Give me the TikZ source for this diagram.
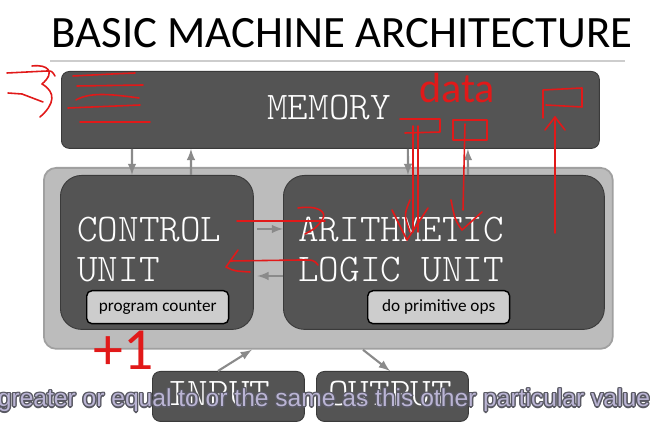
\documentclass[tikz,border=0pt]{standalone}
\usepackage{fontspec}
\setmainfont{Carlito}
\newfontfamily\typefont{Latin Modern Mono Light}
\newfontfamily\subfont{Liberation Sans}
\usepackage{xcolor}
\definecolor{boxdark}{RGB}{84,84,84}
\definecolor{boxedge}{RGB}{58,58,58}
\definecolor{outerfill}{RGB}{188,188,188}
\definecolor{outeredge}{RGB}{160,160,160}
\definecolor{tagfill}{RGB}{205,205,205}
\definecolor{flowgray}{RGB}{138,138,138}
\definecolor{rulegray}{RGB}{205,205,205}
\definecolor{pen}{RGB}{225,25,25}
\definecolor{subfill}{RGB}{186,180,212}
\definecolor{subedge}{RGB}{88,88,98}
\usetikzlibrary{calc,positioning}

\begin{document}
\begin{tikzpicture}[x=0.02cm,y=-0.02cm,
    darkbox/.style={draw=boxedge,fill=boxdark,line width=0.5pt,inner sep=0pt,anchor=north west},
    tagbox/.style={draw=black,fill=tagfill,line width=0.8pt,rounded corners=3pt,inner sep=0pt,anchor=north west,minimum width=2.84cm,minimum height=0.66cm,font=\fontsize{9.8}{11}\selectfont},
    bigtext/.style={text=white,font=\typefont\fontsize{22.3}{24}\selectfont,anchor=base west,inner sep=0pt},
    flow/.style={->,>=latex,draw=flowgray,line width=1.2pt},
    pen/.style={draw=pen,line width=0.9pt,line cap=round,line join=round},
    subline/.style={font=\subfont\fontsize{14}{16}\selectfont,anchor=base,inner sep=0pt}]

  \useasboundingbox (0,0) rectangle (650,425);
  \clip (0,0) rectangle (650,425);

  % title
  \node[anchor=base,inner sep=0pt,font=\fontsize{25.5}{28}\selectfont] (title) at (342,48) {BASIC MACHINE ARCHITECTURE};
  \draw[rulegray,line width=0.8pt] (50,61) -- (625,61);

  % boxes
  \node[darkbox,rounded corners=4.5pt,minimum width=10.76cm,minimum height=1.54cm] (mem) at (61,71) {};
  \node[draw=outeredge,fill=outerfill,line width=1pt,rounded corners=7pt,inner sep=0pt,anchor=north west,minimum width=11.38cm,minimum height=3.62cm] (cpu) at (43,167) {};
  \node[darkbox,rounded corners=12pt,minimum width=3.86cm,minimum height=3.08cm] (cu) at (60,175) {};
  \node[darkbox,rounded corners=12pt,minimum width=6.42cm,minimum height=3.08cm] (alu) at (283,175) {};
  \node[tagbox] (pc) at (86,290) {program counter};
  \node[tagbox] (ops) at (367,290) {do primitive ops};
  \node[darkbox,rounded corners=4.5pt,minimum width=3.04cm,minimum height=1cm] (inp) at (152,371) {};
  \node[darkbox,rounded corners=4.5pt,minimum width=3.04cm,minimum height=1cm] (outp) at (316,371) {};

  % labels
  \node[bigtext,anchor=base] (memtext) at (329,120) {MEMORY};
  \node[bigtext] (cutext) at (77,242) {CONTROL};
  \node[bigtext] (cutext2) at (77,282) {UNIT};
  \node[bigtext] (alutext) at (298,242) {ARITHMETIC};
  \node[bigtext] (alutext2) at (298,282) {LOGIC UNIT};
  \node[bigtext] (intext) at (167,406) {INPUT};
  \node[bigtext] (outtext) at (328,406) {OUTPUT};

  % connectors
  \draw[flow] ([xshift=1.42cm]mem.south west) -- ([xshift=1.44cm]cu.north west);
  \draw[flow] ([xshift=2.62cm]cu.north west) -- ([xshift=2.6cm]mem.south west);
  \draw[flow] ([xshift=6.94cm]mem.south west) -- ([xshift=2.5cm]alu.north west);
  \draw[flow] ([xshift=3.7cm]alu.north west) -- ([xshift=8.14cm]mem.south west);
  \draw[flow] ([xshift=2pt,yshift=-1.08cm]cu.north east) -- ([yshift=-1.08cm]alu.north west);
  \draw[flow] ([yshift=-2.02cm]alu.north west) -- ([xshift=2pt,yshift=-2.02cm]cu.north east);
  \draw[flow] ([xshift=1.32cm]inp.north west) -- ([xshift=4.18cm]cpu.south west);
  \draw[flow] ([xshift=6.4cm]cpu.south west) -- ([xshift=1.48cm]outp.north west);

  % pen notes
  \draw[pen] (7,73) -- (47,71) .. controls (52,71) .. (55,76);
  \draw[pen] (32,66) .. controls (48,64) and (56,72) .. (42,84) .. controls (56,92) and (55,104) .. (40,117);
  \draw[pen] (8,93) -- (22,94) -- (43,102);
  \draw[pen] (73,76) -- (112,74) -- (135,73);
  \draw[pen] (77,86) -- (143,85);
  \draw[pen] (76,100) .. controls (90,92) and (110,94) .. (139,98);
  \draw[pen] (68,108) -- (140,105);
  \draw[pen] (80,122) -- (150,122);
  \draw[pen] (400,119) -- (440,119) -- (440,132) -- (405,133);
  \draw[pen] (413,126) -- (413,232);
  \draw[pen] (418,126) -- (418,232);
  \draw[pen] (410,200) .. controls (404,215) .. (410,232);
  \draw[pen] (392,210) -- (407,240) -- (428,208);
  \draw[pen] (453,120) rectangle (487,140);
  \draw[pen] (465,124) -- (463,210);
  \draw[pen] (451,200) .. controls (455,220) .. (462,230) -- (482,212);
  \draw[pen] (543,118) -- (543,90) -- (582,88) -- (582,107) -- (546,105);
  \draw[pen] (555,233) -- (555,117);
  \draw[pen] (545,130) -- (555,117) -- (565,130);
  \draw[pen] (237,221) -- (325,221);
  \draw[pen] (298,208) .. controls (318,205) and (328,212) .. (322,220) .. controls (316,228) .. (305,234);
  \draw[pen] (318,265) .. controls (314,260) .. (300,260) -- (230,261);
  \draw[pen] (238,250) -- (226,267) .. controls (234,271) .. (250,272);
  \node[text=pen,font=\fontsize{24}{26}\selectfont,inner sep=0pt] (datanote) at (457,88) {data};
  \node[text=pen,font=\fontsize{34}{36}\selectfont,inner sep=0pt] (incnote) at (124,350) {+1};

  % caption
  \foreach \dx/\dy in {-1.4/0,1.4/0,0/-1.4,0/1.4,-1/-1,1/1,-1/1,1/-1}
    \node[subline,text=subedge] at (324+\dx,407+\dy) {greater or equal to or the same as this other particular value};
  \node[subline,text=subfill] (caption) at (324,407) {greater or equal to or the same as this other particular value};
\end{tikzpicture}
\end{document}
